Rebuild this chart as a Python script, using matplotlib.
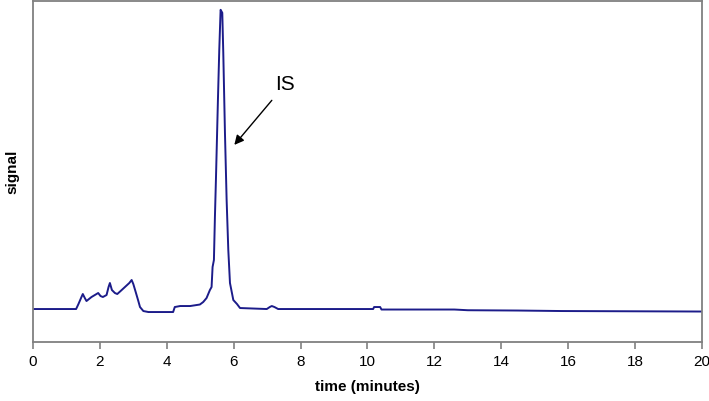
import matplotlib.pyplot as plt

plt.rcParams['font.family'] = ['Liberation Sans', 'DejaVu Sans']

# chromatogram trace (time in minutes, signal in arbitrary units)
time = [0.0, 1.29, 1.36, 1.45, 1.49, 1.55, 1.60, 1.75, 1.95, 2.02, 2.09, 2.20, 2.26, 2.30,
        2.36, 2.45, 2.52, 2.62, 2.75, 2.88, 2.95, 3.00, 3.08, 3.15, 3.20, 3.30, 3.45,
        4.19, 4.24, 4.40, 4.70, 4.99, 5.09, 5.19, 5.29, 5.34, 5.37, 5.41, 5.44, 5.47,
        5.53, 5.57, 5.61, 5.66, 5.69, 5.74, 5.79, 5.84, 5.89, 5.99, 6.10, 6.19,
        6.99, 7.08, 7.14, 7.22, 7.33, 10.17, 10.20, 10.38, 10.42, 12.6, 13.0,
        14.5, 15.8, 20.0]
signal = [33, 33, 38, 45, 48, 44, 41, 45, 49, 46, 45, 47, 55, 59,
          52, 49, 48, 51, 55, 59, 62, 58, 49, 41, 35, 31, 30,
          30, 35, 36, 36, 37.5, 40, 44, 52, 55, 75, 82, 125, 162,
          242, 292, 332, 329, 289, 209, 142, 92, 59, 42, 38, 34,
          33, 35, 36, 35, 33, 33, 35, 35, 32.5, 32.5, 31.8,
          31.5, 31, 30.5]

xticks = list(range(0, 21, 2))

fig = plt.figure(figsize=(7.09, 4.01), dpi=100)
ax = fig.add_axes([0.0465, 0.147, 0.9435, 0.851])

ax.plot(time, signal, color='#1c1c8a', lw=1.4)

ax.set_xlim(0, 20)
ax.set_ylim(0, 341)
ax.set_xticks(xticks)
ax.set_yticks([])
ax.tick_params(axis='x', direction='out', length=5, width=1.2, color='#808080',
               labelsize=11, pad=4)
for s in ax.spines.values():
    s.set_color('#808080')
    s.set_linewidth(1.3)

ax.set_xlabel('time (minutes)', fontsize=11, fontweight='bold', labelpad=8)
ax.set_ylabel('signal', fontsize=11, fontweight='bold', labelpad=10)

ax.annotate('IS', xy=(6.02, 197), xytext=(7.53, 257), fontsize=15,
            ha='center', va='center',
            arrowprops=dict(arrowstyle='-|>', color='black', lw=1,
                            shrinkA=3, shrinkB=0, mutation_scale=14))

fig.savefig('out.png', dpi=100)
